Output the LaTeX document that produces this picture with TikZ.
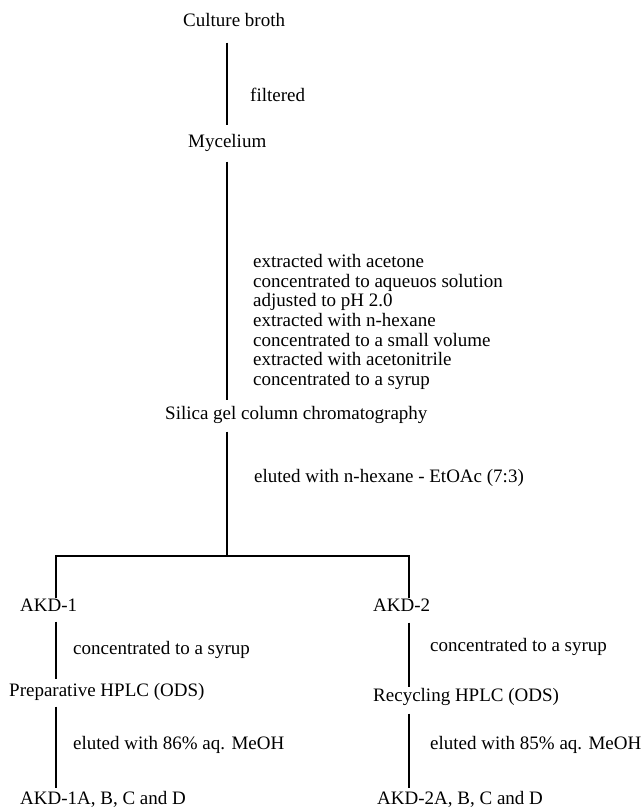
\documentclass[tikz,border=0pt]{standalone}
\usepackage{fontspec}
\setmainfont{Liberation Serif}
\usetikzlibrary{positioning}

\begin{document}
\begin{tikzpicture}[x=1pt,y=-1pt,
  txt/.style={anchor=west,inner sep=0pt,font=\fontsize{19}{19.7}\selectfont,text height=13pt,text depth=4pt},
  flow/.style={line width=2.3pt},
  twig/.style={line width=1.9pt}]
\useasboundingbox (0,0) rectangle (641,810);
\coordinate (spine) at (227,0);
\coordinate (lft) at (56,0);
\coordinate (rgt) at (409,0);
% main column
\node[txt] (culture) at (183,22) {Culture broth};
\node[txt] (filt) at (250,97) {filtered};
\node[txt] (mycel) at (188,143) {Mycelium};
\node[anchor=north west,inner sep=0pt,align=left,font=\fontsize{19}{19.7}\selectfont] (work) at (253,254)
  {extracted with acetone\\
   concentrated to aqueuos solution\\
   adjusted to pH 2.0\\
   extracted with n-hexane\\
   concentrated to a small volume\\
   extracted with acetonitrile\\
   concentrated to a syrup};
\node[txt] (silica) at (165,415) {Silica gel column chromatography};
\node[txt] (elute) at (254,478) {eluted with n-hexane - EtOAc (7:3)};
\coordinate (split) at (227,556);
\draw[flow] ([yshift=-12pt]culture.south -| spine) -- ([yshift=9pt]mycel.north -| spine);
\draw[flow] ([yshift=-10pt]mycel.south -| spine) -- ([yshift=6pt]silica.north -| spine);
\draw[flow] ([yshift=-8pt]silica.south -| spine) -- (split);
% branches
\node[txt] (akda) at (20,607) {AKD-1};
\node[txt] (akdb) at (373,607) {AKD-2};
\draw[flow] (akda.north -| lft) |- (split) -| (akdb.north -| rgt);
% left branch
\node[txt] (conca) at (73,650) {concentrated to a syrup};
\node[txt] (prep) at (9,692) {Preparative HPLC (ODS)};
\node[txt] (eluta) at (73,745) {eluted with 86\% aq. MeOH};
\node[txt] (proda) at (20,800) {AKD-1A, B, C and D};
\draw[twig] ([yshift=-6pt]akda.south -| lft) -- ([yshift=4pt]prep.north -| lft);
\draw[twig] ([yshift=-6pt]prep.south -| lft) -- ([yshift=3pt]proda.north -| lft);
% right branch
\node[txt] (concb) at (430,647) {concentrated to a syrup};
\node[txt] (recy) at (373,697) {Recycling HPLC (ODS)};
\node[txt] (elutb) at (430,745) {eluted with 85\% aq. MeOH};
\node[txt] (prodb) at (377,800) {AKD-2A, B, C and D};
\draw[twig] ([yshift=-7pt]akdb.south -| rgt) -- ([yshift=1pt]recy.north -| rgt);
\draw[twig] ([yshift=-8pt]recy.south -| rgt) -- ([yshift=3pt]prodb.north -| rgt);
\end{tikzpicture}
\end{document}
